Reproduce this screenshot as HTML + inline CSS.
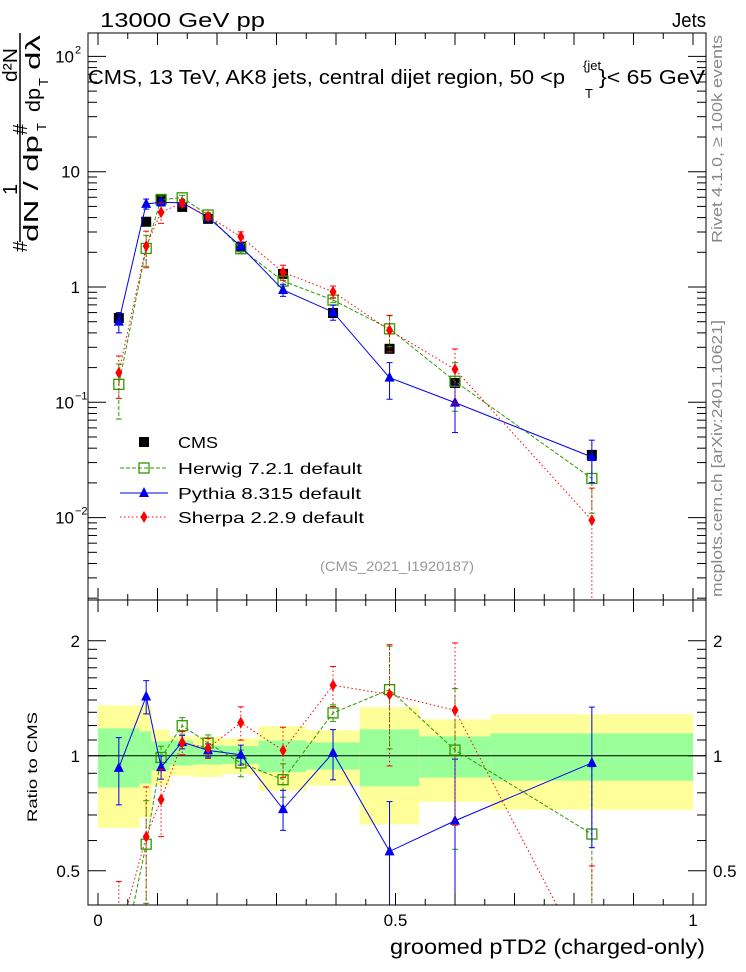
<!DOCTYPE html>
<html><head><meta charset="utf-8"><style>
html,body{margin:0;padding:0;background:#fff;width:746px;height:972px;overflow:hidden;position:relative;}
svg{display:block;font-family:"Liberation Sans",sans-serif;overflow:hidden;}
</style></head><body>
<svg id="c" width="746" height="972" viewBox="0 0 746 972" style="position:absolute;left:0;top:0" xmlns="http://www.w3.org/2000/svg"></svg>
<script>
const xs = [0.035,0.081,0.106,0.1415,0.185,0.24,0.311,0.395,0.49,0.6,0.83];
const binEdges = [0,0.07,0.09,0.12,0.16,0.21,0.27,0.35,0.44,0.54,0.66,1.0];
const cmsVals = [0.538,3.68,5.8,4.95,3.9,2.24,1.3,0.595,0.291,0.147,0.035];
const pythiaRatio = [0.93,1.43,0.934,1.086,1.033,1.006,0.725,1.018,0.562,0.676,0.958];
const herwigRatio = [0.266,0.587,0.99,1.199,1.08,0.958,0.866,1.295,1.49,1.035,0.624];
const sherpaRatio = [0.335,0.614,0.768,1.082,1.047,1.221,1.033,1.53,1.447,1.316,0.271];
const pythiaErr = [0.2,0.1,0.07,0.04,0.04,0.06,0.12,0.15,0.35,0.45,0.4];
const herwigErr = [0.5,0.3,0.07,0.05,0.05,0.08,0.1,0.05,0.3,0.45,0.5];
const sherpaErr = [0.4,0.35,0.2,0.07,0.06,0.1,0.15,0.12,0.35,0.5,0.9];
const yellowHi = [1.356,1.356,1.17,1.124,1.12,1.11,1.195,1.166,1.34,1.246,1.284];
const yellowLo = [0.648,0.689,0.836,0.888,0.88,0.897,0.81,0.836,0.661,0.758,0.723];
const greenHi = [1.18,1.159,1.09,1.097,1.065,1.06,1.097,1.084,1.173,1.124,1.145];
const greenLo = [0.826,0.846,0.915,0.943,0.949,0.953,0.906,0.92,0.832,0.877,0.861];

const NS="http://www.w3.org/2000/svg";
const svg=document.getElementById('c');
function mk(tag,attrs,parent){const e=document.createElementNS(NS,tag);for(const k in attrs)e.setAttribute(k,attrs[k]);(parent||svg).appendChild(e);return e;}
const L=88,R=706,T=33,M=600,B=905;
const X=v=>98+595*v;
const Ym=v=>287-115.3*Math.log10(v);
const Yr=v=>755.8-382*Math.log10(v);
const defs=mk('defs',{});
const c1=mk('clipPath',{id:'cm'},defs);mk('rect',{x:L,y:T,width:R-L,height:M-T},c1);
const c2=mk('clipPath',{id:'cr'},defs);mk('rect',{x:L,y:M,width:R-L,height:B-M},c2);
const gm=mk('g',{'clip-path':'url(#cm)'});


const gr=mk('g',{'clip-path':'url(#cr)'});



for(let i=0;i<xs.length;i++){
  const x0=X(binEdges[i]),x1=X(binEdges[i+1]);
  const y=mk('rect',{x:x0,y:Yr(yellowHi[i]),width:x1-x0,height:Yr(yellowLo[i])-Yr(yellowHi[i]),fill:'#ffff99'},gr);
  
  
  const g=mk('rect',{x:x0,y:Yr(greenHi[i]),width:x1-x0,height:Yr(greenLo[i])-Yr(greenHi[i]),fill:'#99ff99'},gr);
  
  
}
mk('line',{x1:L,x2:R,y1:Yr(1),y2:Yr(1),stroke:'#000','stroke-width':1},gr);

const series=[
 {name:'herwig',ratio:herwigRatio,err:herwigErr,col:'#339900',dash:'4,2',mark:'sq'},
 {name:'pythia',ratio:pythiaRatio,err:pythiaErr,col:'#0000ee',dash:'',mark:'tri'},
 {name:'sherpa',ratio:sherpaRatio,err:sherpaErr,col:'#ff0000',dash:'1.5,2.5',mark:'dia'}
];
function marker(kind,x,y,col,g,nm){
  let e;
  if(kind==='sq') e=mk('rect',{x:x-5,y:y-5,width:10,height:10,fill:'none',stroke:col,'stroke-width':1.3},g);
  else if(kind==='tri') e=mk('polygon',{points:`${x},${y-6} ${x-5},${y+4} ${x+5},${y+4}`,fill:col},g);
  else if(kind==='dia') e=mk('polygon',{points:`${x},${y-6} ${x-3.5},${y} ${x},${y+6} ${x+3.5},${y}`,fill:col},g);
  else e=mk('rect',{x:x-5,y:y-5,width:10,height:10,fill:col},g);
  
  
}
function drawSeries(g,Y,valsFn,s,nm){
  const pts=xs.map((x,i)=>[X(x),Y(valsFn(i))]);
  mk('polyline',{points:pts.map(p=>p.join(',')).join(' '),fill:'none',stroke:s.col,'stroke-width':1,'stroke-dasharray':s.dash},g);
  xs.forEach((x,i)=>{
    const v=valsFn(i),e=s.err[i];
    const lo=Math.max(v*(1-e),1e-4),hi=v*(1+e);
    const px=X(x);
    mk('line',{x1:px,x2:px,y1:Y(hi),y2:Y(lo),stroke:s.col,'stroke-width':1,'stroke-dasharray':s.dash},g);
    mk('line',{x1:px-3,x2:px+3,y1:Y(hi),y2:Y(hi),stroke:s.col,'stroke-width':1},g);
    mk('line',{x1:px-3,x2:px+3,y1:Y(lo),y2:Y(lo),stroke:s.col,'stroke-width':1},g);
    marker(s.mark,px,Y(v),s.col,g,nm+'-point');
  });
}
xs.forEach((x,i)=>marker('cms',X(x),Ym(cmsVals[i]),'#000',gm,'cms-point'));
series.forEach(s=>{
  drawSeries(gm,Ym,i=>s.ratio[i]*cmsVals[i],s,s.name);
  drawSeries(gr,Yr,i=>s.ratio[i],s,s.name+'-ratio');
});

mk('rect',{x:L,y:T,width:R-L,height:M-T,fill:'none',stroke:'#000','stroke-width':1});
mk('rect',{x:L,y:M,width:R-L,height:B-M,fill:'none',stroke:'#000','stroke-width':1});
for(let k=0;k<=20;k++){
  const v=k*0.05,px=X(v),len=(k%2===0)?12:6;
  [T,M].forEach(y0=>mk('line',{x1:px,x2:px,y1:y0,y2:y0+len,stroke:'#000'}));
  [M,B].forEach(y0=>mk('line',{x1:px,x2:px,y1:y0,y2:y0-len,stroke:'#000'}));
}
[0,0.5,1].forEach(v=>{const t=mk('text',{x:X(v),y:926,'font-size':17,'text-anchor':'middle'});t.textContent=String(v);});
for(let d=-3;d<=2;d++){
  for(let m=1;m<=9;m++){
    const v=m*Math.pow(10,d),y=Ym(v);
    if(y<T||y>M)continue;
    const len=m===1?18:9;
    mk('line',{x1:L,x2:L+len,y1:y,y2:y,stroke:'#000'});
    mk('line',{x1:R,x2:R-len,y1:y,y2:y,stroke:'#000'});
  }
}
const mlabels=[[100,'10','2'],[10,'10',''],[1,'1',''],[0.1,'10','−1'],[0.01,'10','−2']];
mlabels.forEach(([v,b,e])=>{
  const t=mk('text',{x:e?74:80,y:Ym(v)+6,'font-size':17,'text-anchor':'end'});
  t.textContent=b;
  
  
  if(e){const s=mk('text',{x:75,y:Ym(v)-3,'font-size':11});s.textContent=e;}
});
[0.5,0.6,0.7,0.8,0.9,1,2].forEach(v=>{
  const y=Yr(v),len=(v===0.5||v===1||v===2)?18:9;
  mk('line',{x1:L,x2:L+len,y1:y,y2:y,stroke:'#000'});
  mk('line',{x1:R,x2:R-len,y1:y,y2:y,stroke:'#000'});
});
[1.1,1.2,1.3,1.4,1.5,1.6,1.7,1.8,1.9].forEach(v=>{const y=Yr(v);mk('line',{x1:L,x2:L+9,y1:y,y2:y,stroke:'#000'});mk('line',{x1:R,x2:R-9,y1:y,y2:y,stroke:'#000'});});
[[2,'2'],[1,'1'],[0.5,'0.5']].forEach(([v,s])=>{
  const a=mk('text',{x:80,y:Yr(v)+6,'font-size':17,'text-anchor':'end'});a.textContent=s;
  
  const b=mk('text',{x:713,y:Yr(v)+6,'font-size':17});b.textContent=s;
  
});
</script>
<svg width="746" height="972" style="position:absolute;left:0;top:0" xmlns="http://www.w3.org/2000/svg">
<text x="100" y="27" font-size="20" textLength="165" lengthAdjust="spacingAndGlyphs">13000 GeV pp</text>
<text x="672" y="27" font-size="20" textLength="34" lengthAdjust="spacingAndGlyphs">Jets</text>
<text x="88" y="84" font-size="20" textLength="477" lengthAdjust="spacingAndGlyphs">CMS, 13 TeV, AK8 jets, central dijet region, 50 &lt;p</text>
<text x="583" y="70" font-size="13">{jet</text>
<text x="585" y="98" font-size="13">T</text>
<text x="599" y="84" font-size="20" textLength="106" lengthAdjust="spacingAndGlyphs">}&lt; 65 GeV</text>
<text x="320" y="571" font-size="14" fill="#999" textLength="154" lengthAdjust="spacingAndGlyphs">(CMS_2021_I1920187)</text>
<g>
<rect x="139" y="437" width="10" height="10" fill="#000"/>
<text x="178" y="448" font-size="16" textLength="40" lengthAdjust="spacingAndGlyphs">CMS</text>
<line x1="120" x2="168" y1="468" y2="468" stroke="#339900" stroke-dasharray="4,2"/>
<rect x="139" y="463" width="10" height="10" fill="none" stroke="#339900" stroke-width="1.3"/>
<text x="178" y="474" font-size="16" textLength="184" lengthAdjust="spacingAndGlyphs">Herwig 7.2.1 default</text>
<line x1="120" x2="168" y1="493" y2="493" stroke="#0000ee"/>
<polygon points="144,487 139,497 149,497" fill="#0000ee"/>
<text x="178" y="499" font-size="16" textLength="183" lengthAdjust="spacingAndGlyphs">Pythia 8.315 default</text>
<line x1="120" x2="168" y1="517" y2="517" stroke="#ff0000" stroke-dasharray="1.5,2.5"/>
<polygon points="144,511 140.5,517 144,523 147.5,517" fill="#ff0000"/>
<text x="178" y="523" font-size="16" textLength="186" lengthAdjust="spacingAndGlyphs">Sherpa 2.2.9 default</text>
</g>
<text x="390" y="954" font-size="21" textLength="315" lengthAdjust="spacingAndGlyphs">groomed pTD2 (charged-only)</text>
<text transform="translate(37,822) rotate(-90)" font-size="14" textLength="110" lengthAdjust="spacingAndGlyphs">Ratio to CMS</text>
<g transform="translate(0,252) rotate(-90)">
<text x="0" y="27" font-size="20">#</text>
<text x="57" y="17" font-size="20">1</text>
<line x1="10" x2="219" y1="20" y2="20" stroke="#000" stroke-width="1.5"/>
<text x="10" y="38" font-size="20" textLength="107" lengthAdjust="spacingAndGlyphs">dN / dp</text>
<text x="121" y="46" font-size="13">T</text>
<text x="117" y="27" font-size="20">#</text>
<text x="170" y="17" font-size="20" textLength="34" lengthAdjust="spacingAndGlyphs">d²N</text>
<text x="140" y="40" font-size="20" textLength="24" lengthAdjust="spacingAndGlyphs">dp</text>
<text x="166" y="48" font-size="13">T</text>
<text x="182" y="40" font-size="20" textLength="35" lengthAdjust="spacingAndGlyphs">dλ</text>
</g>
<text transform="translate(722,243) rotate(-90)" font-size="15" fill="#888" textLength="208" lengthAdjust="spacingAndGlyphs">Rivet 4.1.0, ≥ 100k events</text>
<text transform="translate(722,597) rotate(-90)" font-size="15" fill="#888" textLength="277" lengthAdjust="spacingAndGlyphs">mcplots.cern.ch [arXiv:2401.10621]</text>
</svg>
</body></html>
